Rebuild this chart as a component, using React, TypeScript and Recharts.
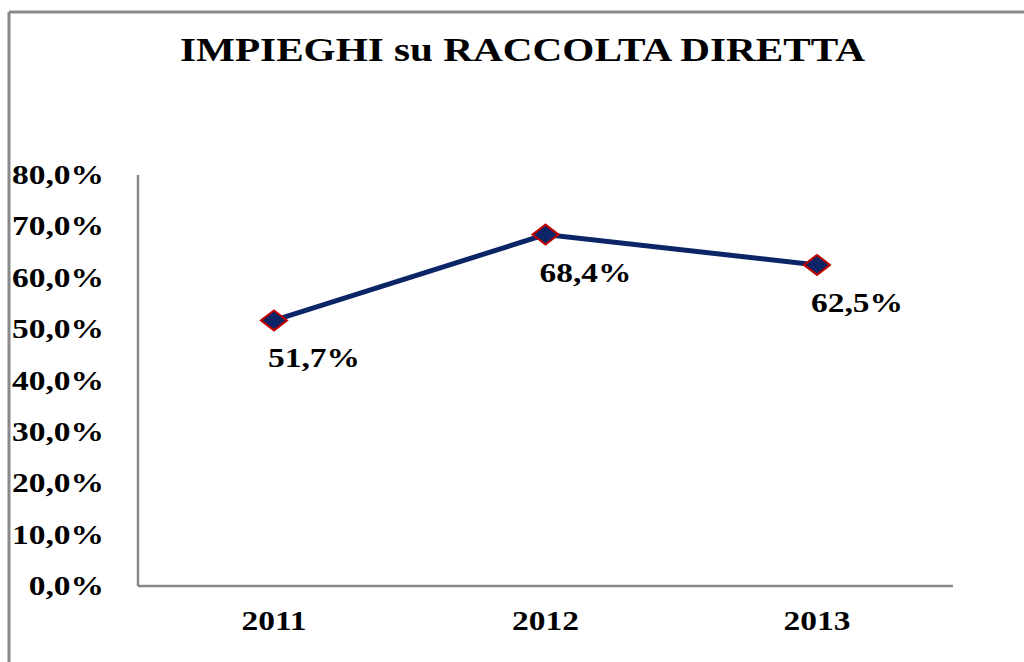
import { LineChart, Line, XAxis, YAxis, LabelList } from "recharts"

const years = ["2011", "2012", "2013"]
const ratios = [51.7, 68.4, 62.5]
const yTicks = [0, 10, 20, 30, 40, 50, 60, 70, 80]

const data = years.map((year, i) => ({ year, value: ratios[i] }))

const FONT = "'Liberation Serif', 'Times New Roman', serif"
const NAVY = "#0b2566"
const AXIS = "#898989"
const STRETCH = 1.24

const pct = (v: number) => `${v.toFixed(1).replace(".", ",")}%`

function YTick({ x, y, payload }: any) {
  return (
    <g transform={`translate(${x - 34},${y + 9}) scale(${STRETCH},1)`}>
      <text textAnchor="end" fontFamily={FONT} fontWeight="bold" fontSize={27} fill="#000">
        {pct(payload.value)}
      </text>
    </g>
  )
}

function XTick({ x, y, payload }: any) {
  return (
    <g transform={`translate(${x},${y + 44}) scale(${STRETCH},1)`}>
      <text textAnchor="middle" fontFamily={FONT} fontWeight="bold" fontSize={27} fill="#000">
        {payload.value}
      </text>
    </g>
  )
}

function Diamond({ cx, cy, index }: any) {
  if (cx == null || cy == null) return null
  const w = 13
  const h = 10
  return (
    <polygon
      key={`d-${index}`}
      points={`${cx - w},${cy} ${cx},${cy - h} ${cx + w},${cy} ${cx},${cy + h}`}
      fill={NAVY}
      stroke="#c00000"
      strokeWidth={2}
    />
  )
}

function ValueLabel({ x, y, value }: any) {
  return (
    <g transform={`translate(${x + 40},${y + 47}) scale(${STRETCH},1)`}>
      <text textAnchor="middle" fontFamily={FONT} fontWeight="bold" fontSize={27} fill="#000">
        {pct(value)}
      </text>
    </g>
  )
}

export default function App() {
  return (
    <div style={{ position: "fixed", left: 0, top: 0, width: 1024, height: 662, background: "#fff" }}>
      <LineChart width={1024} height={662} data={data} margin={{ top: 175, right: 71, bottom: 0, left: 0 }}>
        <XAxis
          dataKey="year"
          height={76}
          padding={{ left: 136, right: 136 }}
          tickLine={false}
          tickSize={0}
          tickMargin={0}
          axisLine={{ stroke: AXIS, strokeWidth: 2.5 }}
          tick={<XTick />}
        />
        <YAxis
          width={138}
          domain={[0, 80]}
          ticks={yTicks}
          interval={0}
          tickLine={false}
          tickSize={0}
          tickMargin={0}
          axisLine={{ stroke: AXIS, strokeWidth: 2.5 }}
          tick={<YTick />}
        />
        <Line
          type="linear"
          dataKey="value"
          stroke={NAVY}
          strokeWidth={5}
          dot={<Diamond />}
          activeDot={false}
          isAnimationActive={false}
        >
          <LabelList dataKey="value" content={<ValueLabel />} />
        </Line>
      </LineChart>
      <svg width={1024} height={662} style={{ position: "absolute", left: 0, top: 0, pointerEvents: "none" }}>
        <line x1={9} y1={12} x2={1024} y2={12} stroke={AXIS} strokeWidth={3} />
        <line x1={9} y1={12} x2={9} y2={662} stroke={AXIS} strokeWidth={3} />
        <text
          x={180}
          y={61}
          textLength={685}
          lengthAdjust="spacingAndGlyphs"
          fontFamily={FONT}
          fontWeight="bold"
          fontSize={33}
          fill="#000"
        >
          IMPIEGHI su RACCOLTA DIRETTA
        </text>
      </svg>
    </div>
  )
}
